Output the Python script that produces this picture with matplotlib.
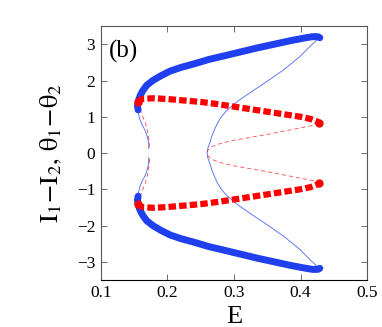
import matplotlib
matplotlib.use("Agg")
import matplotlib.pyplot as plt

plt.rcParams['font.family'] = ['Liberation Serif', 'DejaVu Serif']
plt.rcParams['mathtext.fontset'] = 'stix'

# stable branch (thick blue), upper half
blue_up_E = [0.156, 0.155, 0.156, 0.159, 0.163, 0.169, 0.178, 0.190, 0.204, 0.220, 0.240,
             0.262, 0.285, 0.310, 0.335, 0.360, 0.385, 0.405, 0.418, 0.426, 0.429]
blue_up_y = [1.19, 1.30, 1.42, 1.58, 1.72, 1.87, 2.00, 2.13, 2.26, 2.36, 2.46,
             2.58, 2.68, 2.79, 2.90, 3.00, 3.10, 3.17, 3.21, 3.21, 3.18]
# lower half
blue_lo_y = [-1.19, -1.30, -1.42, -1.58, -1.72, -1.87, -2.00, -2.13, -2.26, -2.36, -2.46,
             -2.58, -2.68, -2.79, -2.90, -3.00, -3.10, -3.17, -3.21, -3.21, -3.18]

# unstable branch (thin blue), right loop through E~0.26
bthin_E = [0.428, 0.413, 0.399, 0.375, 0.346, 0.327, 0.308, 0.297, 0.288, 0.281, 0.276,
           0.272, 0.267, 0.264, 0.261, 0.2595,
           0.261, 0.264, 0.267, 0.272, 0.276, 0.281, 0.288, 0.297, 0.308,
           0.327, 0.346, 0.375, 0.399, 0.413, 0.428]
bthin_y = [3.18, 2.92, 2.66, 2.30, 1.93, 1.70, 1.46, 1.30, 1.15, 1.00, 0.85,
           0.70, 0.48, 0.30, 0.15, 0.0,
           -0.15, -0.30, -0.48, -0.70, -0.85, -1.00, -1.15, -1.30, -1.46,
           -1.70, -1.93, -2.30, -2.66, -2.92, -3.18]
# thin blue, left side pieces
bleft_E = [0.156, 0.157, 0.159, 0.162, 0.166, 0.169, 0.171, 0.172, 0.172]
bleft_up_y = [1.19, 1.05, 0.91, 0.78, 0.64, 0.50, 0.36, 0.24, 0.12]
bleft_lo_y = [-1.19, -1.05, -0.91, -0.78, -0.64, -0.50, -0.36, -0.24, -0.12]

# phase difference, stable (thick red)
red_E = [0.156, 0.158, 0.165, 0.180, 0.200, 0.225, 0.250, 0.275, 0.300, 0.325,
         0.350, 0.375, 0.400, 0.415, 0.425, 0.428]
red_up_y = [1.40, 1.46, 1.50, 1.51, 1.49, 1.45, 1.41, 1.35, 1.28, 1.21,
            1.14, 1.07, 1.00, 0.94, 0.87, 0.83]
red_lo_y = [-1.40, -1.46, -1.50, -1.51, -1.49, -1.45, -1.41, -1.35, -1.28, -1.21,
            -1.14, -1.07, -1.00, -0.94, -0.87, -0.83]

# phase difference, unstable (thin red)
rthin_E = [0.428, 0.424, 0.399, 0.374, 0.349, 0.324, 0.299, 0.279, 0.266, 0.261, 0.2595,
           0.261, 0.266, 0.279, 0.299, 0.324, 0.349, 0.374, 0.399, 0.424, 0.428]
rthin_y = [0.81, 0.78, 0.69, 0.60, 0.51, 0.43, 0.35, 0.26, 0.17, 0.08, 0.0,
           -0.08, -0.17, -0.26, -0.35, -0.43, -0.51, -0.60, -0.69, -0.78, -0.81]
rleft_E = [0.156, 0.158, 0.161, 0.164, 0.167, 0.169, 0.171, 0.172, 0.173, 0.173]
rleft_up_y = [1.40, 1.25, 1.10, 0.96, 0.82, 0.68, 0.54, 0.38, 0.22, 0.12]
rleft_lo_y = [-1.40, -1.25, -1.10, -0.96, -0.82, -0.68, -0.54, -0.38, -0.22, -0.12]

xticks = [0.1, 0.2, 0.3, 0.4, 0.5]
yticks = [-3, -2, -1, 0, 1, 2, 3]

blue = '#2040f0'
red = '#ff0000'

fig = plt.figure(figsize=(3.82, 3.27), dpi=100)
ax = fig.add_axes([0.264, 0.144, 0.697, 0.776])

# thin (unstable) lines
ax.plot(bthin_E, bthin_y, color=blue, lw=0.6, alpha=0.8)
ax.plot(bleft_E, bleft_up_y, color=blue, lw=0.6, alpha=0.8)
ax.plot(bleft_E, bleft_lo_y, color=blue, lw=0.6, alpha=0.8)
for yy in (rleft_up_y, rleft_lo_y):
    ax.plot(rleft_E, yy, color=red, lw=0.6, alpha=0.7, dashes=(5, 3.5))
ax.plot(rthin_E, rthin_y, color=red, lw=0.6, alpha=0.7, dashes=(5, 3.5))

# thick (stable) lines
for yy in (blue_up_y, blue_lo_y):
    ax.plot(blue_up_E, yy, color=blue, lw=5, solid_capstyle='round', solid_joinstyle='round')
for yy in (red_up_y, red_lo_y):
    ax.plot(red_E, yy, color=red, lw=4.5, dashes=(1.2, 0.5), dash_capstyle='butt')
    ax.plot(red_E[0], yy[0], 'o', color=red, ms=5)
    ax.plot(red_E[-1], yy[-1], 'o', color=red, ms=5)

ax.set_xlim(0.1, 0.5)
ax.set_ylim(-3.5, 3.5)
ax.set_xticks(xticks)
ax.set_xticklabels(['0.1', '0.2', '0.3', '0.4', '0.5'])
ax.set_yticks(yticks)
ax.set_yticklabels(['\u22123', '\u22122', '\u22121', '0', '1', '2', '3'])
ax.tick_params(direction='in', top=True, right=True, length=4, width=0.6,
               labelsize=12.5, color='#555555', pad=4)

for side in ('left', 'top', 'right'):
    ax.spines[side].set_color('#555555')
    ax.spines[side].set_linewidth(0.8)
ax.spines['bottom'].set_color('black')
ax.spines['bottom'].set_linewidth(0.8)

ax.set_xlabel('E', fontsize=19, labelpad=3)
ax.set_ylabel(r'$\mathrm{I_1\!-\!I_2,\,\theta_1\!-\!\theta_2}$', fontsize=19, labelpad=9)
ax.text(0.03, 0.945, '(b)', transform=ax.transAxes, fontsize=18, va='top', ha='left')

fig.savefig('out.png', dpi=100)
